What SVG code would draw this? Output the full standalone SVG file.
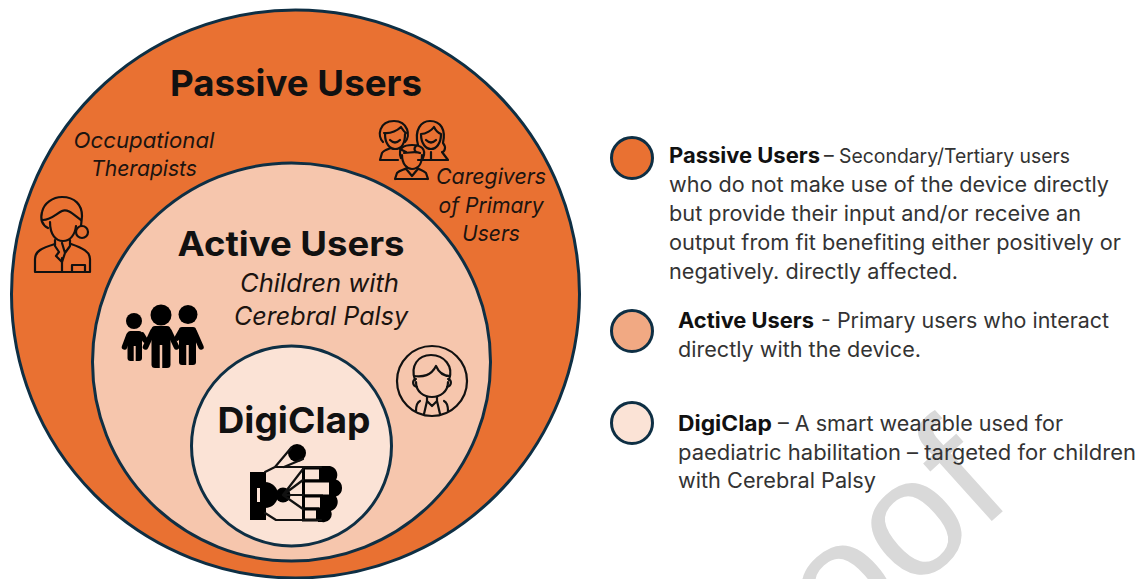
<svg xmlns="http://www.w3.org/2000/svg" width="1143" height="579" viewBox="0 0 1143 579">
<style>
text{font-family:Inter,"Noto Sans","Liberation Sans",sans-serif;fill:#111}
.ring{stroke:#0e2f44;stroke-width:3}
.o{fill:#e97132}.m{fill:#f6c6ad}.i{fill:#fbe3d6}
.h{font-weight:700;text-anchor:middle}
.it{font-style:italic;text-anchor:middle;fill:#1c1410}
.d{font-size:21px;fill:#333}
.b{font-size:21px;font-weight:700;fill:#111}
.ln{fill:none;stroke:#111;stroke-width:2.200;stroke-linejoin:round;stroke-linecap:round}
.s{fill:#000}
.arm{fill:none;stroke:#000;stroke-width:5.500;stroke-linecap:round;stroke-linejoin:round}
</style>
<text id="watermark" transform="translate(842,656) rotate(-42)" font-size="168" style="font-family:'Liberation Sans',sans-serif;fill:#d9d9d9">oof</text>
<g id="passive-users">
<circle class="ring o" cx="295.500" cy="294" r="284"/>
<text class="h" x="296" y="96" font-size="36" textLength="252" lengthAdjust="spacingAndGlyphs">Passive Users</text>
</g>
<g id="occupational-therapists">
<text class="it" x="144" y="148" font-size="22" textLength="141" lengthAdjust="spacingAndGlyphs">Occupational</text>
<text class="it" x="144" y="176" font-size="22" textLength="106" lengthAdjust="spacingAndGlyphs">Therapists</text>
<g class="ln">
<path d="M48 228C40 224 41 216 42 212C44 203 53 197 62 197C75 197 82 205 82 216L81 226"/>
<path d="M43 220C51 220 56 214 62 211C68 208 75 216 81 220"/>
<path d="M50 222C50 235 56 241 63 241C70 241 75 235 76 226"/>
<circle cx="82" cy="232" r="6"/>
<path d="M35 272V259C35 251 42 248 55 244M90 272V259C90 252 83 248 71 244M35 272H90M62 258V272M72 272V265H85V272"/>
<path d="M55 240L55 246L59 252L56 256L62 262L65 253L70 246L70 240M62 243L65 253"/>
</g>
</g>
<g id="caregivers">
<text class="it" x="491" y="184" font-size="22" textLength="110" lengthAdjust="spacingAndGlyphs">Caregivers</text>
<text class="it" x="491" y="213" font-size="22" textLength="105" lengthAdjust="spacingAndGlyphs">of Primary</text>
<text class="it" x="491" y="241" font-size="22" textLength="58" lengthAdjust="spacingAndGlyphs">Users</text>
<g class="ln" stroke-width="2">
<path d="M383 142C377 136 379 121 394 121C408 121 411 136 405 142"/>
<path d="M384 133C391 134 398 130 401 127C403 130 404 132 406 133"/>
<path d="M385 134C385 144 390 149 395 149C401 149 405 144 405 134M390 140Q395 145 400 140"/>
<path d="M380 160L382 153C384 150 389 149 391 148M380 160H398M400 149L406 152"/>
<path d="M418 145C414 130 421 121 430 121C441 121 446 130 443 143C447 148 444 152 442 152L448 160H418M416 152C413 149 415 146 418 145"/>
<path d="M421 134C426 134 432 130 434 127C436 131 438 133 441 134M421 134C421 144 426 149 431 149C436 149 441 144 441 134M426 140Q431 145 436 140M431 152V160"/>
<path d="M401 158C397 147 405 145 412 145C420 145 427 148 423 158"/>
<path d="M402 155C402 164 407 169 412 169C418 169 422 164 422 155M404 153C410 153 415 151 420 153"/>
<path d="M395 179L397 173C400 170 404 170 407 168M428 179L426 173C423 170 420 170 417 168M395 179H428M407 170L412 176L417 170"/>
</g>
</g>
<g id="active-users">
<circle class="ring m" cx="291.500" cy="362" r="199"/>
<text class="h" x="291" y="256" font-size="34" textLength="227" lengthAdjust="spacingAndGlyphs">Active Users</text>
<text class="it" x="319.500" y="292" font-size="25" textLength="159" lengthAdjust="spacingAndGlyphs">Children with</text>
<text class="it" x="321" y="325" font-size="25" textLength="174" lengthAdjust="spacingAndGlyphs">Cerebral Palsy</text>
<g id="children-icon">
<circle class="s" cx="134" cy="321" r="8"/>
<rect class="s" x="127.500" y="331" width="14.500" height="30" rx="3"/>
<path class="arm" d="M129 335L124.500 347M142 335L145 340"/>
<path stroke="#f6c6ad" stroke-width="2" d="M134.700 346V362"/>
<circle class="s" cx="161" cy="315" r="10.500"/>
<rect class="s" x="151.500" y="326" width="19" height="42" rx="3.500"/>
<path class="arm" d="M153 331L145.500 347M169 331L176.500 347"/>
<path stroke="#f6c6ad" stroke-width="2.500" d="M161 345V369"/>
<circle class="s" cx="188" cy="314.500" r="9.500"/>
<rect class="s" x="179" y="327" width="17" height="38" rx="3"/>
<path class="arm" d="M194 331L201 347M181 331L177 338"/>
<path stroke="#f6c6ad" stroke-width="2.500" d="M187.500 345V366"/>
</g>
<g class="ln" stroke-width="1.800">
<circle cx="432" cy="381" r="35"/>
<path d="M415 380C410 366 418 355 431 355C444 355 454 366 449 380"/>
<path d="M414 376C423 377 431 376 436 366C439 373 444 376 450 376"/>
<path d="M416 382C416 392 424 397 432 397C440 397 448 392 448 382"/>
<path d="M416 379C412 380 412 386 417 387M448 379C452 380 452 386 447 387"/>
<path d="M427 397V401L432 406L437 401V397M420 401C416 403 416 408 416 411M444 401C448 403 448 408 448 411M427 401L424 414M437 401L440 414"/>
</g>
</g>
<g id="digiclap">
<circle class="ring i" cx="291.500" cy="446" r="100"/>
<text class="h" x="294" y="433" font-size="36" textLength="153" lengthAdjust="spacingAndGlyphs">DigiClap</text>
<g class="s">
<path d="M250 472H266V520H250ZM257 488V502H260V488Z" fill-rule="evenodd"/>
<path d="M265 482A13 13 0 0 1 265 508Z"/>
<circle cx="283" cy="495" r="7.500"/>
<circle cx="297" cy="453" r="9"/>
<path d="M318 466H330A9 9 0 0 1 336 479.500A9 9 0 0 1 336 496.500A9.500 9.500 0 0 1 331 511A8 8 0 0 1 322 522H318Z"/>
</g>
<g fill="#fbe3d6" stroke="#000" stroke-width="3">
<rect x="303.500" y="468" width="17" height="13"/>
<rect x="303.500" y="481" width="27" height="15"/>
<rect x="303.500" y="496" width="18" height="13"/>
<rect x="303.500" y="509" width="14" height="11"/>
</g>
<g class="ln" stroke-width="3">
<path d="M265 472L275 467H321M265 513L276 520H321M275 467L291 448M284 467L303 459M283 495L303 469M283 495L303 480M283 495H303M283 495L303 509"/>
</g>
</g>
<g id="legend-passive">
<circle class="ring o" cx="632" cy="158" r="20.500"/>
<text class="b" x="669" y="163" textLength="151" lengthAdjust="spacingAndGlyphs">Passive Users</text>
<text class="d" x="824" y="163" textLength="246" lengthAdjust="spacingAndGlyphs" style="font-size:20px">– Secondary/Tertiary users</text>
<text class="d" x="669" y="192" textLength="440" lengthAdjust="spacingAndGlyphs">who do not make use of the device directly</text>
<text class="d" x="669" y="221" textLength="412" lengthAdjust="spacingAndGlyphs">but provide their input and/or receive an</text>
<text class="d" x="669" y="250" textLength="452" lengthAdjust="spacingAndGlyphs">output from fit benefiting either positively or</text>
<text class="d" x="669" y="279" textLength="289" lengthAdjust="spacingAndGlyphs">negatively. directly affected.</text>
</g>
<g id="legend-active">
<circle class="ring" fill="#f1a983" cx="632" cy="331" r="20.500"/>
<text class="b" x="678" y="328" textLength="136" lengthAdjust="spacingAndGlyphs">Active Users</text>
<text class="d" x="821" y="328" textLength="288" lengthAdjust="spacingAndGlyphs">- Primary users who interact</text>
<text class="d" x="678" y="357" textLength="243" lengthAdjust="spacingAndGlyphs">directly with the device.</text>
</g>
<g id="legend-digiclap">
<circle class="ring i" cx="632" cy="423" r="20.500"/>
<text class="b" x="678" y="431" textLength="94" lengthAdjust="spacingAndGlyphs">DigiClap</text>
<text class="d" x="778" y="431" textLength="285" lengthAdjust="spacingAndGlyphs">– A smart wearable used for</text>
<text class="d" x="678" y="460" textLength="458" lengthAdjust="spacingAndGlyphs">paediatric habilitation – targeted for children</text>
<text class="d" x="678" y="488" textLength="198" lengthAdjust="spacingAndGlyphs">with Cerebral Palsy</text>
</g>
</svg>
